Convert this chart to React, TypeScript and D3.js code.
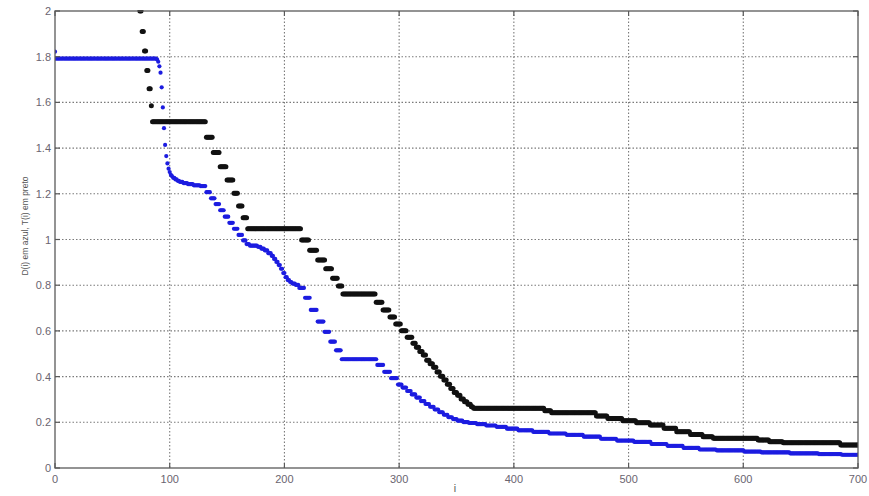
import React from "react";
import * as d3 from "d3";

const W = 869;
const H = 496;
const MARGIN = { top: 11, right: 11, bottom: 28, left: 55 };

// runs of [first i, last i, value]
const tRuns: [number, number, number][] = [
  [70, 71, 2.17], [72, 73, 2.08],
  [74, 75, 2.0], [76, 77, 1.91], [78, 79, 1.825], [80, 81, 1.74], [82, 83, 1.66], [84, 84, 1.585],
  [85, 131, 1.515],
  [132, 137, 1.447], [138, 143, 1.381], [144, 149, 1.318], [150, 155, 1.26], [156, 159, 1.202],
  [160, 163, 1.147], [164, 167, 1.095],
  [168, 214, 1.047],
  [215, 221, 0.998], [222, 228, 0.953], [229, 235, 0.91], [236, 241, 0.872], [242, 246, 0.83], [247, 250, 0.797],
  [251, 279, 0.762],
  [280, 285, 0.725], [286, 291, 0.691], [292, 296, 0.661], [297, 301, 0.63], [302, 306, 0.601], [307, 311, 0.572],
  [312, 314, 0.546], [315, 317, 0.528], [318, 320, 0.51], [321, 323, 0.495], [324, 326, 0.472], [327, 329, 0.456],
  [330, 332, 0.441], [333, 335, 0.42], [336, 338, 0.402], [339, 341, 0.385], [342, 344, 0.367], [345, 347, 0.348],
  [348, 350, 0.33], [351, 353, 0.318], [354, 356, 0.302], [357, 359, 0.29], [360, 362, 0.279], [363, 364, 0.268],
  [365, 426, 0.261],
  [427, 432, 0.251],
  [433, 471, 0.242],
  [472, 481, 0.228], [482, 494, 0.217], [495, 506, 0.207], [507, 518, 0.198], [519, 530, 0.188],
  [531, 541, 0.174], [542, 553, 0.159], [554, 564, 0.147], [565, 573, 0.137],
  [574, 612, 0.13],
  [613, 622, 0.122], [623, 634, 0.115],
  [635, 684, 0.111],
  [685, 700, 0.101],
];

const dRuns: [number, number, number][] = [
  [0, 0, 1.822], [1, 88, 1.792],
  [89, 89, 1.788], [90, 90, 1.778], [91, 91, 1.758], [92, 92, 1.73], [93, 93, 1.666], [94, 94, 1.578],
  [95, 95, 1.487], [96, 96, 1.414], [97, 97, 1.365], [98, 98, 1.333], [99, 99, 1.31], [100, 100, 1.295],
  [101, 101, 1.283], [102, 102, 1.277], [103, 104, 1.27], [105, 106, 1.263], [107, 108, 1.257],
  [109, 111, 1.252], [112, 115, 1.247], [116, 120, 1.242], [121, 126, 1.237], [127, 131, 1.234],
  [132, 135, 1.207], [136, 139, 1.18], [140, 143, 1.155], [144, 147, 1.128], [148, 151, 1.1],
  [152, 155, 1.073], [156, 159, 1.047], [160, 163, 1.02], [164, 166, 0.996], [167, 169, 0.98],
  [170, 176, 0.973],
  [177, 179, 0.968], [180, 182, 0.96], [183, 185, 0.952], [186, 188, 0.94], [189, 190, 0.928],
  [191, 192, 0.915], [193, 194, 0.902], [195, 196, 0.888], [197, 198, 0.872], [199, 200, 0.853],
  [201, 202, 0.835], [203, 204, 0.822], [205, 206, 0.814], [207, 209, 0.807], [210, 212, 0.801],
  [213, 217, 0.788], [218, 222, 0.745], [223, 228, 0.692], [229, 234, 0.641], [235, 239, 0.596],
  [240, 244, 0.553], [245, 249, 0.515],
  [250, 280, 0.476],
  [281, 286, 0.451], [287, 292, 0.421], [293, 298, 0.393], [299, 302, 0.365],
  [303, 306, 0.352], [307, 310, 0.337], [311, 314, 0.322], [315, 318, 0.308], [319, 322, 0.293],
  [323, 326, 0.28], [327, 330, 0.268], [331, 334, 0.256], [335, 338, 0.244], [339, 342, 0.233],
  [343, 346, 0.222], [347, 350, 0.214], [351, 355, 0.207], [356, 360, 0.201], [361, 367, 0.197],
  [368, 375, 0.192], [376, 384, 0.186], [385, 393, 0.18], [394, 403, 0.172], [404, 416, 0.165],
  [417, 430, 0.158], [431, 445, 0.151], [446, 460, 0.145], [461, 475, 0.137], [476, 489, 0.128],
  [490, 504, 0.12], [505, 519, 0.114], [520, 533, 0.105], [534, 547, 0.097], [548, 561, 0.088],
  [562, 576, 0.081], [577, 600, 0.077], [601, 615, 0.072], [616, 640, 0.068], [641, 665, 0.064],
  [666, 685, 0.061], [686, 700, 0.058],
];

const xTicks = [0, 100, 200, 300, 400, 500, 600, 700];
const yTicks = [0, 0.2, 0.4, 0.6, 0.8, 1, 1.2, 1.4, 1.6, 1.8, 2];

// run-length decode: one point per i
const expand = (runs: [number, number, number][]) => {
  const pts: { i: number; v: number }[] = [];
  runs.forEach(([a, b, v]) => {
    for (let i = a; i <= b; i++) pts.push({ i, v });
  });
  return pts;
};

const App = () => {
  const x = d3.scaleLinear().domain([0, 700]).range([MARGIN.left, W - MARGIN.right]);
  const y = d3.scaleLinear().domain([0, 2]).range([H - MARGIN.bottom, MARGIN.top]);
  const x0 = x(0), x1 = x(700), y0 = y(0), y1 = y(2);

  const dPts = expand(dRuns);
  const tPts = expand(tRuns);

  const tickColor = "#6a6470";
  const font = "'Liberation Sans', Arial, sans-serif";

  return (
    <div style={{ position: "absolute", left: 0, top: 0 }}>
      <svg width={W} height={H} style={{ display: "block", background: "#fff" }}>
        <defs>
          <clipPath id="plot">
            <rect x={x0} y={y1 - 1} width={x1 - x0} height={y0 - y1 + 1} />
          </clipPath>
        </defs>

        {/* grid */}
        <g stroke="#7a7a7a" strokeWidth={1.1} strokeDasharray="1.5,2">
          {xTicks.slice(1, -1).map((t) => (
            <line key={"gx" + t} x1={x(t)} x2={x(t)} y1={y1} y2={y0} />
          ))}
          {yTicks.slice(1, -1).map((t) => (
            <line key={"gy" + t} x1={x0} x2={x1} y1={y(t)} y2={y(t)} />
          ))}
        </g>

        {/* data */}
        <g clipPath="url(#plot)">
          {dPts.map((p) => (
            <circle key={"d" + p.i} cx={x(p.i)} cy={y(p.v)} r={2.1} fill="#1c1ce0" />
          ))}
          {tPts.map((p) => (
            <circle key={"t" + p.i} cx={x(p.i)} cy={y(p.v)} r={2.5} fill="#111" />
          ))}
        </g>

        {/* box and ticks */}
        <rect x={x0} y={y1} width={x1 - x0} height={y0 - y1} fill="none" stroke="#5a5a5a" strokeWidth={1.3} />
        <g stroke="#5a5a5a" strokeWidth={1.2}>
          {xTicks.map((t) => (
            <g key={"tx" + t}>
              <line x1={x(t)} x2={x(t)} y1={y0} y2={y0 - 5} />
              <line x1={x(t)} x2={x(t)} y1={y1} y2={y1 + 5} />
            </g>
          ))}
          {yTicks.map((t) => (
            <g key={"ty" + t}>
              <line x1={x0} x2={x0 + 5} y1={y(t)} y2={y(t)} />
              <line x1={x1} x2={x1 - 5} y1={y(t)} y2={y(t)} />
            </g>
          ))}
        </g>

        {/* tick labels */}
        <g fill={tickColor} fontFamily={font} fontSize={11}>
          {xTicks.map((t) => (
            <text key={"lx" + t} x={x(t)} y={y0 + 15} textAnchor="middle">
              {t}
            </text>
          ))}
          {yTicks.map((t) => (
            <text key={"ly" + t} x={x0 - 4} y={y(t) + 4} textAnchor="end">
              {d3.format("~g")(t)}
            </text>
          ))}
        </g>

        {/* axis labels */}
        <text
          transform={`translate(28,226) rotate(-90)`}
          textAnchor="middle"
          fontFamily={font}
          fontSize={8.5}
          fill="#555"
        >
          D(i) em azul, T(i) em preto
        </text>
        <text x={455} y={492} textAnchor="middle" fontFamily={font} fontSize={10.5} fill="#555">
          i
        </text>
      </svg>
    </div>
  );
};

export default App;
